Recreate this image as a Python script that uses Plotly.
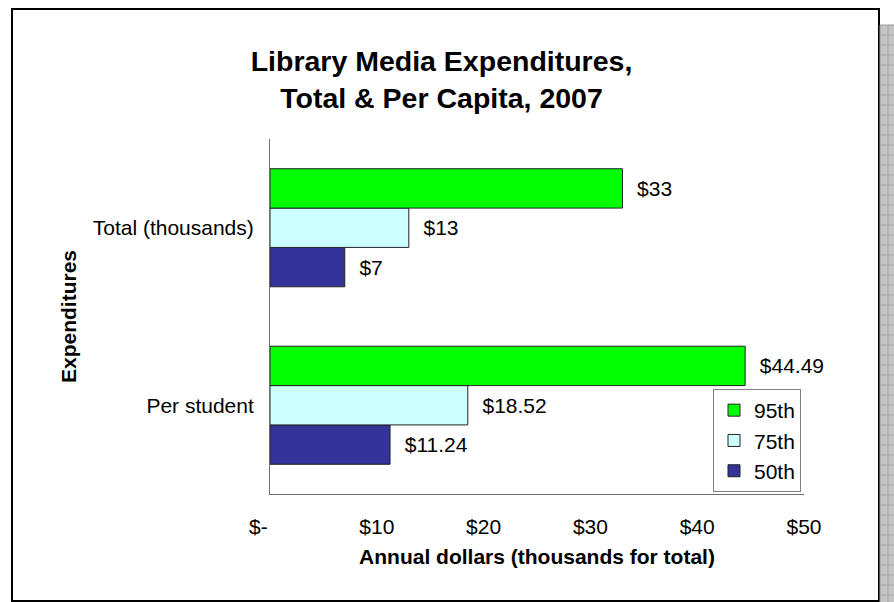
import plotly.graph_objects as go

# ---- data ----
categories = ["Per student", "Total (thousands)"]
series_names = ["50th", "75th", "95th"]
values_50th = [11.24, 7]
values_75th = [18.52, 13]
values_95th = [44.49, 33]
colors = {"50th": "#333399", "75th": "#CCFFFF", "95th": "#00FF00"}
legend_ranks = {"95th": 1, "75th": 2, "50th": 3}
tick_vals = [0, 10, 20, 30, 40, 50]
tick_text = ["$-\u00a0\u00a0\u00a0\u00a0", "$10", "$20", "$30", "$40", "$50"]

FONT = "Liberation Sans, Arial, sans-serif"
W, H = 894, 602
L, R, T, B = 270, 804, 139, 494


def xp(px):
    return (px - L) / (R - L)


def yp(py):
    return (B - py) / (B - T)


def label(v, cat):
    return ("$%.0f" % v) if cat.startswith("Total") else ("$%.2f" % v)


fig = go.Figure()
for name, vals in zip(series_names, [values_50th, values_75th, values_95th]):
    fig.add_trace(go.Bar(
        name=name, orientation="h", y=categories, x=vals,
        marker=dict(color=colors[name], line=dict(color="#222222", width=1)),
        text=["\u00a0\u00a0" + label(v, c) for v, c in zip(vals, categories)],
        textposition="outside", cliponaxis=False,
        textfont=dict(family=FONT, size=21, color="black"),
        legendrank=legend_ranks[name],
    ))

shapes = []
# outer chart border
shapes.append(dict(type="rect", xref="paper", yref="paper",
                   x0=xp(12), x1=xp(879), y0=yp(601), y1=yp(9),
                   line=dict(color="black", width=2), layer="above"))
# grey hatched strip on the right
shapes.append(dict(type="rect", xref="paper", yref="paper",
                   x0=xp(880), x1=xp(895), y0=yp(603), y1=yp(25),
                   fillcolor="#C4C4C4", line=dict(color="#999999", width=1)))
shapes.append(dict(type="line", xref="paper", yref="paper",
                   x0=xp(888), x1=xp(888), y0=yp(603), y1=yp(25),
                   line=dict(color="#A0A0A0", width=1)))
for py in range(35, 602, 10):
    shapes.append(dict(type="line", xref="paper", yref="paper",
                       x0=xp(880), x1=xp(895), y0=yp(py), y1=yp(py),
                       line=dict(color="#A8A8A8", width=1)))

fig.update_layout(
    width=W, height=H,
    margin=dict(l=L, r=W - R, t=T, b=H - B, autoexpand=False),
    paper_bgcolor="white", plot_bgcolor="white",
    font=dict(family=FONT, size=21, color="black"),
    barmode="group", bargap=0.335, bargroupgap=0,
    title=dict(text="<b>Library Media Expenditures,<br>Total & Per Capita, 2007</b>",
               font=dict(family=FONT, size=28.5, color="black"),
               x=xp(441.5), xref="paper", xanchor="center",
               y=1 - 71 / H, yref="container", yanchor="middle"),
    xaxis=dict(range=[0, 50], tickvals=tick_vals, ticktext=tick_text,
               showgrid=False, zeroline=False, showline=True, linecolor="#707070",
               linewidth=1, ticks="", ticklabelstandoff=14,
               tickfont=dict(family=FONT, size=21, color="black"),
               title=dict(text="<b>Annual dollars (thousands for total)</b>",
                          font=dict(family=FONT, size=21, color="black"), standoff=12)),
    yaxis=dict(categoryorder="array", categoryarray=categories,
               showgrid=False, zeroline=False, showline=True, linecolor="#707070",
               linewidth=1, ticks="", ticklabelstandoff=11,
               tickfont=dict(family=FONT, size=21, color="black"),
               title=dict(text="<b>Expenditures</b>",
                          font=dict(family=FONT, size=21, color="black"), standoff=10)),
    legend=dict(x=xp(713), y=yp(389), xanchor="left", yanchor="top",
                traceorder="normal",
                bordercolor="#808080", borderwidth=1, bgcolor="white",
                font=dict(family=FONT, size=21, color="black"),
                itemwidth=30),
    shapes=shapes,
    showlegend=True,
)

fig.write_html("out.html", config={"displayModeBar": False},
               post_script="document.body.style.margin='0';")
